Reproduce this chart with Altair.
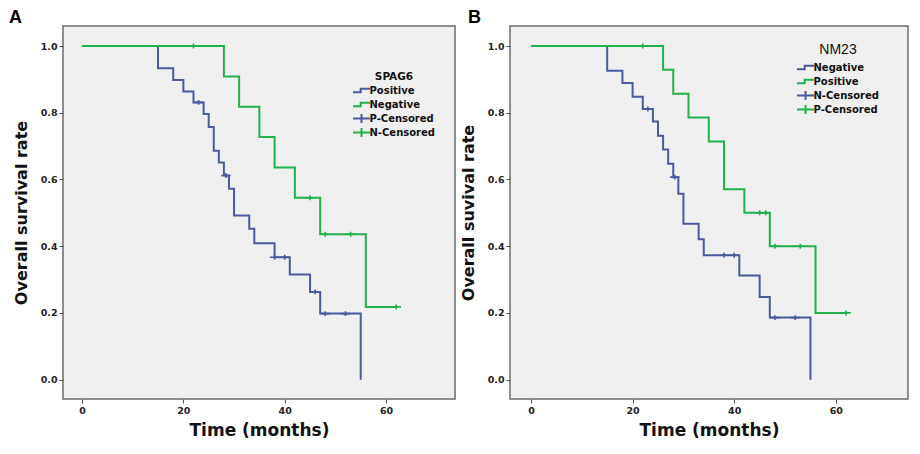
import altair as alt
import pandas as pd

BLUE = "#4a5a9e"
GREEN = "#20b04c"
FONT = "DejaVu Sans"
LFONT = "Liberation Sans"

# ---------------- Panel A : SPAG6 ----------------
a_pos_t = [0, 15, 18, 20, 22, 24, 25, 26, 27, 28, 29, 30, 33, 34, 38, 41, 45, 47, 55]
a_pos_s = [1.0, 0.933, 0.898, 0.864, 0.831, 0.796, 0.757, 0.686, 0.651, 0.612,
           0.572, 0.492, 0.452, 0.409, 0.367, 0.315, 0.263, 0.198, 0.0]
a_pos_cens_t = [23, 28.4, 38, 40, 46, 48, 52]
a_pos_cens_s = [0.831, 0.612, 0.367, 0.367, 0.263, 0.198, 0.198]

a_neg_t = [0, 28, 31, 35, 38, 42, 47, 56, 62]
a_neg_s = [1.0, 0.909, 0.818, 0.727, 0.636, 0.545, 0.436, 0.218, 0.218]
a_neg_cens_t = [22, 45, 48, 53, 62]
a_neg_cens_s = [1.0, 0.545, 0.436, 0.436, 0.218]

a_keys = ["Positive", "Negative", "P-Censored", "N-Censored"]

# ---------------- Panel B : NM23 ----------------
b_neg_t = [0, 15, 18, 20, 22, 24, 25, 26, 27, 28, 29, 30, 33, 34, 41, 45, 47, 55]
b_neg_s = [1.0, 0.926, 0.889, 0.848, 0.811, 0.774, 0.731, 0.690, 0.647, 0.607,
           0.557, 0.467, 0.421, 0.373, 0.312, 0.248, 0.186, 0.0]
b_neg_cens_t = [23, 28.3, 38, 40, 48, 52]
b_neg_cens_s = [0.811, 0.607, 0.373, 0.373, 0.186, 0.186]

b_pos_t = [0, 26, 28, 31, 35, 38, 42, 47, 56, 62]
b_pos_s = [1.0, 0.929, 0.857, 0.786, 0.714, 0.571, 0.5, 0.4, 0.2, 0.2]
b_pos_cens_t = [22, 45, 46.2, 48, 53, 62]
b_pos_cens_s = [1.0, 0.5, 0.5, 0.4, 0.4, 0.2]

b_keys = ["Negative", "Positive", "N-Censored", "P-Censored"]

x_ticks = [0, 20, 40, 60]
y_ticks = [0.0, 0.2, 0.4, 0.6, 0.8, 1.0]

# step icon (with move-only points so its box matches the plus icon)
STEP = "M-2.125,-1.1M2.125,1.1M-2.125,0.45H-0.2V-0.45H2.125"
PLUS = "M-2.125,0H2.125M0,-1.1V1.1"


def df(t, s, key):
    return pd.DataFrame({"t": t, "s": s, "key": key})


def panel(lines_df, cens_df, keys, letter, lx, width, xdom, ytitle, leg):
    xs = alt.Scale(domain=xdom, nice=False, zero=False)
    ys = alt.Scale(domain=[-0.058, 1.06], nice=False, zero=False)
    x = alt.X("t:Q", scale=xs, axis=alt.Axis(
        values=x_ticks, title="Time (months)", format="d"))
    y = alt.Y("s:Q", scale=ys, axis=alt.Axis(
        values=y_ticks, title=ytitle, format=".1f"))
    lscale = alt.Scale(domain=keys[:2], range=[BLUE, GREEN])
    cscale = alt.Scale(domain=keys, range=[BLUE, GREEN, BLUE, GREEN])
    sscale = alt.Scale(domain=keys, range=[STEP, STEP, PLUS, PLUS])
    legend = alt.Legend(
        title=leg["title"], orient="none", legendX=leg["x"], legendY=leg["y"],
        padding=0, titleAnchor="middle", titleFontSize=leg["tfs"],
        titleFontWeight=leg["tfw"], titleFont=leg["tfont"], titleColor="#111",
        titlePadding=leg["tp"], labelFont=FONT, labelFontWeight="bold",
        labelFontSize=leg["lfs"], labelColor="#111", symbolSize=64,
        symbolStrokeWidth=2, symbolOffset=3.5, labelOffset=3, rowPadding=leg["rp"],
    )
    lines = alt.Chart(lines_df).mark_line(
        interpolate="step-after", strokeWidth=2
    ).encode(x=x, y=y, stroke=alt.Stroke("key:N", scale=lscale, legend=None),
             detail="key:N")
    pts = alt.Chart(cens_df).mark_point(
        size=20, strokeWidth=1.6, filled=False, opacity=1
    ).encode(x=x, y=y,
             color=alt.Color("key:N", scale=cscale, legend=legend),
             shape=alt.Shape("key:N", scale=sscale, legend=legend))
    lab = alt.Chart(pd.DataFrame({"l": [letter]})).mark_text(
        font=LFONT, fontWeight="bold", fontSize=18, align="left",
        baseline="middle", color="#000"
    ).encode(x=alt.value(lx), y=alt.value(-8), text="l:N")
    return alt.layer(lines, pts, lab).properties(width=width, height=373)


a_lines = pd.concat([df(a_pos_t, a_pos_s, "Positive"), df(a_neg_t, a_neg_s, "Negative")])
a_cens = pd.concat([df(a_pos_cens_t, a_pos_cens_s, "P-Censored"),
                    df(a_neg_cens_t, a_neg_cens_s, "N-Censored")])
b_lines = pd.concat([df(b_neg_t, b_neg_s, "Negative"), df(b_pos_t, b_pos_s, "Positive")])
b_cens = pd.concat([df(b_neg_cens_t, b_neg_cens_s, "N-Censored"),
                    df(b_pos_cens_t, b_pos_cens_s, "P-Censored")])

pa = panel(a_lines, a_cens, a_keys, "A", -54, 392, [-3.75, 73.6], "Overall survival rate",
           {"title": "SPAG6", "x": 290, "y": 46, "tfs": 10.5, "tfw": "bold",
            "tfont": FONT, "tp": 3, "lfs": 10, "rp": -12.5})
pb = panel(b_lines, b_cens, b_keys, "B", -42, 398, [-4.13, 74.2], "Overall suvival rate",
           {"title": "NM23", "x": 287, "y": 17, "tfs": 14, "tfw": "normal",
            "tfont": LFONT, "tp": 5.5, "lfs": 10, "rp": -11})

chart = alt.hconcat(pa, pb, spacing=3).resolve_scale(
    color="independent", shape="independent", stroke="independent"
).resolve_legend(
    color="independent", shape="independent", stroke="independent"
).properties(padding=0).configure_view(
    stroke="#6b6b6b", strokeWidth=1.5, fill="#f0f0f0"
).configure_axis(
    domain=False, grid=False, tickColor="#555", tickSize=4, tickWidth=1,
    labelFont=FONT, labelFontWeight="bold", labelFontSize=9.5, labelColor="#222",
    labelPadding=2, titleFont=FONT, titleFontWeight="bold",
    titleColor="#111",
).configure_axisX(titlePadding=8, titleFontSize=17).configure_axisY(
    titlePadding=11, titleFontSize=16)

chart.save("out.html", embed_options={"renderer": "svg", "actions": False})
